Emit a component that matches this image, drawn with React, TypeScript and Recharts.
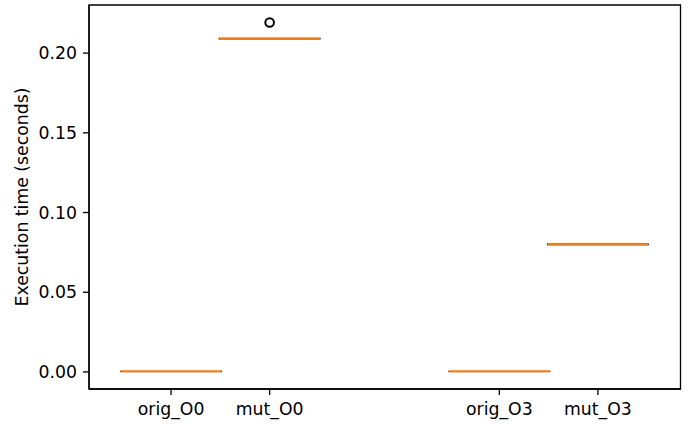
import {
  ComposedChart,
  XAxis,
  YAxis,
  Scatter,
  ReferenceArea,
  ReferenceLine,
} from "recharts";

// box statistics per group (seconds)
const labels = ["orig_O0", "mut_O0", "orig_O3", "mut_O3"];
const positions = [1, 2, 4.33, 5.33];
const whiskerLow = [0.0003, 0.2089, 0.0003, 0.0799];
const q1 = [0.0003, 0.2090, 0.0003, 0.0799];
const median = [0.0003, 0.2091, 0.0003, 0.0800];
const q3 = [0.0004, 0.2092, 0.0004, 0.0801];
const whiskerHigh = [0.0004, 0.2093, 0.0004, 0.0801];

// fliers
const outlierPos = [2];
const outlierVal = [0.2192];

const yTicks = [0, 0.05, 0.1, 0.15, 0.2];

const FONT = "'DejaVu Sans', sans-serif";
const FONT_SIZE = 17.3;
const BOX_W = 1.02;
const X_DOMAIN = [0.1675, 6.168];
const Y_DOMAIN = [-0.0107, 0.2302];

const outliers = outlierPos.map((x, i) => ({ x, y: outlierVal[i] }));

const Flier = (props: any) => (
  <circle cx={props.cx} cy={props.cy} r={4.3} fill="none" stroke="#000" strokeWidth={2} />
);

export default function App() {
  const tickStyle = { fill: "#000", fontSize: FONT_SIZE, fontFamily: FONT };
  return (
    <div style={{ position: "absolute", left: 0, top: 0, background: "#fff" }}>
      <ComposedChart
        width={689}
        height={424}
        margin={{ top: 5, right: 8.5, bottom: 0, left: 9 }}
        style={{ fontFamily: FONT }}
      >
        <XAxis
          type="number"
          dataKey="x"
          domain={X_DOMAIN}
          allowDataOverflow
          ticks={positions}
          tickFormatter={(v: number) => labels[positions.indexOf(v)] ?? ""}
          height={35}
          tick={tickStyle}
          tickSize={6}
          tickMargin={8}
          axisLine={{ stroke: "#000", strokeWidth: 1.3 }}
          tickLine={{ stroke: "#000", strokeWidth: 1.3 }}
          interval={0}
        />
        <YAxis
          type="number"
          dataKey="y"
          domain={Y_DOMAIN}
          allowDataOverflow
          ticks={yTicks}
          tickFormatter={(v: number) => v.toFixed(2)}
          width={80}
          tick={tickStyle}
          tickSize={6}
          tickMargin={6}
          axisLine={{ stroke: "#000", strokeWidth: 1.3 }}
          tickLine={{ stroke: "#000", strokeWidth: 1.3 }}
          interval={0}
          label={{
            content: () => (
              <text
                x={22}
                y={197}
                transform="rotate(-90 22 197)"
                textAnchor="middle"
                dominantBaseline="central"
                fill="#000"
                fontSize={FONT_SIZE}
                fontFamily={FONT}
              >
                Execution time (seconds)
              </text>
            ),
          }}
        />

        {/* axes frame (top/right spines) */}
        <ReferenceArea
          x1={X_DOMAIN[0]}
          x2={X_DOMAIN[1]}
          y1={Y_DOMAIN[0]}
          y2={Y_DOMAIN[1]}
          fill="none"
          fillOpacity={0}
          stroke="#000"
          strokeWidth={1.3}
          ifOverflow="visible"
        />

        {positions.map((p, i) => (
          <ReferenceArea
            key={"box" + i}
            x1={p - BOX_W / 2}
            x2={p + BOX_W / 2}
            y1={q1[i]}
            y2={q3[i]}
            fill="none"
            fillOpacity={0}
            stroke="#000"
            strokeWidth={1.3}
            ifOverflow="visible"
          />
        ))}
        {positions.map((p, i) => (
          <ReferenceLine
            key={"wl" + i}
            segment={[
              { x: p, y: q1[i] },
              { x: p, y: whiskerLow[i] },
            ]}
            stroke="#000"
            strokeWidth={1.3}
          />
        ))}
        {positions.map((p, i) => (
          <ReferenceLine
            key={"wh" + i}
            segment={[
              { x: p, y: q3[i] },
              { x: p, y: whiskerHigh[i] },
            ]}
            stroke="#000"
            strokeWidth={1.3}
          />
        ))}
        {positions.map((p, i) => (
          <ReferenceLine
            key={"med" + i}
            segment={[
              { x: p - BOX_W / 2, y: median[i] },
              { x: p + BOX_W / 2, y: median[i] },
            ]}
            stroke="#ff7f0e"
            strokeWidth={2}
          />
        ))}
        <Scatter data={outliers} shape={Flier} isAnimationActive={false} />
      </ComposedChart>
    </div>
  );
}
